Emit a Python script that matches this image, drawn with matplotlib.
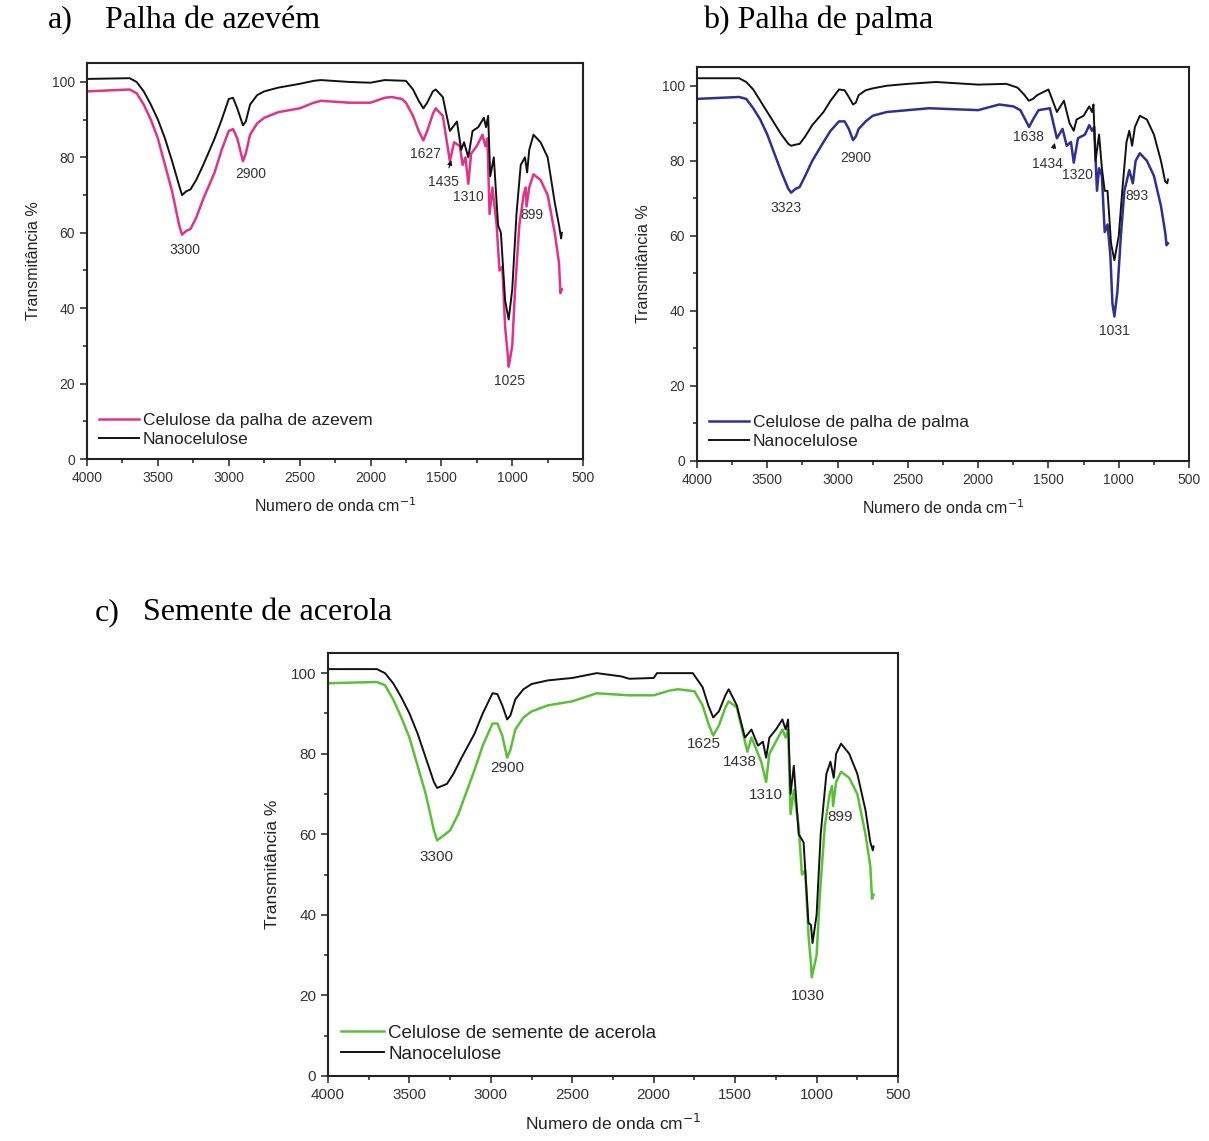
import matplotlib
matplotlib.use("Agg")
import matplotlib.pyplot as plt
from matplotlib.ticker import MultipleLocator

plt.rcParams['font.family'] = ['Liberation Sans', 'DejaVu Sans']

# --- dados (numero de onda cm-1, transmitancia %) ---
# a) palha de azevem
a_wn_cel = [4000, 3700, 3650, 3600, 3550, 3500, 3450, 3400, 3350, 3330, 3300, 3270, 3230, 3180,
            3100, 3050, 3000, 2970, 2940, 2900, 2880, 2850, 2800, 2750, 2650, 2500, 2400, 2350,
            2150, 2000, 1900, 1850, 1780, 1750, 1700, 1660, 1627, 1600, 1560, 1540, 1490, 1440,
            1410, 1370, 1350, 1330, 1310, 1290, 1250, 1210, 1190, 1175, 1160, 1140, 1110, 1090,
            1070, 1050, 1030, 1025, 1000, 980, 950, 920, 905, 899, 880, 850, 800, 750, 700, 670,
            660, 650]
a_t_cel = [97.5, 98, 97, 94, 90, 85, 78, 71, 62, 59.5, 60.5, 61, 64, 69,
           76, 82, 87, 87.5, 85, 79, 81, 86, 89, 90.5, 92, 93, 94.5, 95,
           94.5, 94.5, 95.8, 96, 95.5, 94.5, 91, 87, 84.5, 87, 91.5, 93, 91, 79,
           84, 83, 78, 80, 73, 81, 83, 86, 83, 85, 65, 72, 62, 50,
           51, 35, 27, 24.5, 30, 45, 62, 70, 72, 67, 72, 75.5, 74, 70, 60, 52,
           44, 45]
a_wn_nano = [4000, 3700, 3650, 3600, 3550, 3500, 3450, 3400, 3350, 3330, 3300, 3270, 3230, 3180,
             3100, 3050, 3000, 2970, 2940, 2900, 2880, 2850, 2800, 2750, 2650, 2500, 2400, 2350,
             2150, 2000, 1900, 1750, 1700, 1660, 1627, 1600, 1560, 1540, 1490, 1440, 1390, 1360,
             1340, 1310, 1280, 1240, 1200, 1185, 1170, 1155, 1130, 1100, 1080, 1050, 1025, 1000,
             970, 940, 910, 895, 880, 850, 800, 750, 700, 670, 655, 650]
a_t_nano = [100.8, 101, 100, 97.5, 94, 90, 85, 79, 72.5, 70, 71, 71.5, 74, 78,
            85, 90, 95.5, 95.8, 93, 88.5, 89.5, 94, 96.5, 97.5, 98.5, 99.5, 100.3, 100.5,
            100, 99.8, 100.5, 100.3, 98, 95, 93, 94.5, 97.5, 98, 96, 87, 89.5, 82,
            84, 80, 87, 88, 90.5, 88, 91, 75, 80, 62, 60, 42, 37, 45,
            65, 78, 80, 76, 82, 86, 84, 80, 68, 62, 58.5, 60]

# b) palha de palma
b_wn_cel = [4000, 3700, 3650, 3600, 3550, 3500, 3450, 3400, 3350, 3330, 3300, 3270, 3230, 3180,
            3100, 3050, 2990, 2950, 2920, 2890, 2870, 2850, 2800, 2750, 2650, 2500, 2350, 2000,
            1850, 1750, 1700, 1665, 1638, 1610, 1570, 1490, 1440, 1400, 1370, 1340, 1320, 1290,
            1240, 1210, 1190, 1175, 1155, 1140, 1120, 1100, 1080, 1060, 1045, 1031, 1010, 985,
            960, 925, 900, 880, 850, 800, 750, 700, 670, 660, 650]
b_t_cel = [96.5, 97, 96.5, 94, 91, 87, 82, 77, 72.5, 71.5, 72.5, 73, 76, 80,
           85, 88, 90.5, 90.5, 88.5, 85.5, 86.5, 88.5, 90.5, 92, 93, 93.5, 94, 93.5,
           95, 94.5, 93.5, 91, 89, 91, 93.5, 94, 86, 88.5, 84, 85, 79.5, 86,
           87, 89.5, 88, 89, 72, 78, 76, 61, 63, 55, 42, 38.5, 45, 60,
           72, 77.5, 74, 80, 82, 80, 76, 68, 61, 57.5, 58]
b_wn_nano = [4000, 3700, 3650, 3600, 3550, 3500, 3450, 3400, 3350, 3330, 3300, 3270, 3230, 3180,
             3100, 3050, 2990, 2950, 2920, 2890, 2870, 2850, 2800, 2750, 2650, 2500, 2300, 2000,
             1800, 1720, 1670, 1640, 1610, 1580, 1500, 1440, 1390, 1350, 1320, 1300, 1250, 1210,
             1190, 1180, 1165, 1140, 1120, 1100, 1080, 1055, 1031, 1000, 975, 945, 925, 905,
             885, 850, 800, 750, 700, 670, 655, 650]
b_t_nano = [102, 102, 101, 99, 96, 93, 90, 87, 84.5, 84, 84.3, 84.5, 86.5, 89.5,
            93, 96, 99, 98.8, 97, 95, 95.5, 97.5, 98.8, 99.3, 100, 100.5, 101, 100.3,
            100.5, 99.5, 97.5, 96, 96.5, 97.5, 99, 93, 96, 90, 88, 91, 92, 94.5,
            93, 95, 80, 87, 78, 72, 72, 58, 53.5, 60, 72, 85, 88, 84,
            89, 92, 91, 87, 80, 74.5, 74, 75]

# c) semente de acerola
c_wn_cel = [4000, 3700, 3650, 3600, 3550, 3500, 3450, 3400, 3350, 3330, 3280, 3250, 3200, 3150,
            3100, 3050, 2990, 2960, 2930, 2900, 2880, 2850, 2800, 2750, 2650, 2500, 2350, 2150,
            2000, 1900, 1850, 1750, 1700, 1665, 1635, 1600, 1560, 1540, 1490, 1440, 1425, 1400,
            1370, 1340, 1310, 1290, 1250, 1210, 1190, 1175, 1160, 1140, 1110, 1090, 1070, 1050,
            1035, 1030, 1000, 980, 950, 920, 905, 899, 880, 850, 800, 750, 700, 670, 660, 650]
c_t_cel = [97.5, 97.8, 97, 93.5, 89, 84, 77, 70, 61, 58.5, 60, 61, 65, 70.5,
           76, 82, 87.5, 87.5, 84.5, 79, 81, 86, 89, 90.5, 92, 93, 95, 94.5,
           94.5, 95.7, 96, 95.5, 92, 87.5, 84.5, 87, 91.5, 93, 91.5, 83, 80.5, 84,
           81, 78, 73, 80, 83, 86, 84, 86, 65, 71, 62, 50, 51, 35,
           28, 24.5, 30, 45, 62, 70, 72, 67, 73, 75.5, 74, 70, 60, 52, 44, 45]
c_wn_nano = [4000, 3700, 3650, 3600, 3550, 3500, 3450, 3400, 3350, 3330, 3300, 3270, 3230, 3180,
             3100, 3050, 2990, 2960, 2930, 2900, 2880, 2850, 2800, 2750, 2650, 2500, 2350, 2200,
             2150, 2000, 1980, 1900, 1760, 1700, 1665, 1635, 1600, 1560, 1540, 1490, 1440, 1400,
             1360, 1330, 1310, 1290, 1250, 1210, 1190, 1175, 1160, 1140, 1110, 1080, 1050, 1035,
             1025, 1000, 975, 940, 915, 895, 880, 850, 800, 750, 700, 670, 655, 650]
c_t_nano = [101, 101, 100, 97.5, 94, 90, 85, 79, 73, 71.5, 72, 72.5, 75, 79,
            85, 90, 95, 94.8, 92, 88.5, 89.5, 93.5, 96, 97.3, 98.2, 98.8, 100, 99.2,
            98.6, 98.8, 100, 100, 100, 96.5, 92, 89, 90.5, 94.5, 96, 92, 84, 86,
            82, 83, 79, 84, 86, 88.5, 86, 88.5, 70, 77, 60, 58, 38, 37.5,
            33, 40, 60, 75, 78, 74, 80, 82.5, 80, 75, 66, 58, 56, 57]

# rotulos das bandas: (texto, x, y)
a_bandas = [("3300", 3308, 55.4), ("2900", 2843, 75.6), ("1627", 1615, 81), ("1435", 1487, 73.5),
            ("1310", 1311, 69.5), ("899", 860, 64.7), ("1025", 1022, 20.7)]
b_bandas = [("3323", 3366, 67.5), ("2900", 2874, 80.8), ("1638", 1641, 86.4), ("1434", 1505, 79.2),
            ("1320", 1291, 76.3), ("893", 871, 70.7), ("1031", 1028, 34.7)]
c_bandas = [("3300", 3337, 54.3), ("2900", 2901, 76.4), ("1625", 1691, 82.4), ("1438", 1470, 77.9),
            ("1310", 1311, 69.7), ("899", 856, 64.3), ("1030", 1053, 19.9)]

GREY = "#333333"


def painel(ax, wn_cel, t_cel, wn_nano, t_nano, cor, nome, bandas, fs, seta=None):
    ax.plot(wn_cel, t_cel, color=cor, lw=1.8, label=nome)
    ax.plot(wn_nano, t_nano, color="#111111", lw=1.4, label="Nanocelulose")
    ax.set_xlim(4000, 500)
    ax.set_ylim(0, 105)
    ax.xaxis.set_major_locator(MultipleLocator(500))
    ax.xaxis.set_minor_locator(MultipleLocator(250))
    ax.yaxis.set_major_locator(MultipleLocator(20))
    ax.yaxis.set_minor_locator(MultipleLocator(10))
    ax.tick_params(which="both", direction="out", top=False, right=False,
                   labelsize=fs, colors=GREY, width=1.2)
    ax.tick_params(which="major", length=5)
    ax.tick_params(which="minor", length=3)
    for s in ax.spines.values():
        s.set_linewidth(1.5)
        s.set_color("#222222")
    ax.set_xlabel("Numero de onda cm$^{-1}$", fontsize=fs + 1.5, color="#222222", labelpad=8)
    ax.set_ylabel("Transmitância %", fontsize=fs + 1.5, color="#222222", labelpad=8)
    for txt, x, y in bandas:
        ax.text(x, y, txt, fontsize=fs, color=GREY, ha="center", va="center")
    if seta:
        ax.annotate("", xy=seta[1], xytext=seta[0],
                    arrowprops=dict(arrowstyle="-|>", color="#111111", lw=0.8, mutation_scale=7))
    leg = ax.legend(loc="lower left", frameon=False, fontsize=fs + 2.5, handlelength=2.3,
                    handletextpad=0.2, borderaxespad=0.3, labelspacing=0.2)
    for t in leg.get_texts():
        t.set_color("#222222")


fig = plt.figure(figsize=(12.09, 11.41), dpi=100)

ax_a = fig.add_axes([0.0720, 0.5977, 0.4103, 0.3470])
painel(ax_a, a_wn_cel, a_t_cel, a_wn_nano, a_t_nano, "#e0338a",
       "Celulose da palha de azevem", a_bandas, 10, ((1452, 76.5), (1425, 80)))

ax_b = fig.add_axes([0.5765, 0.5960, 0.4070, 0.3453])
painel(ax_b, b_wn_cel, b_t_cel, b_wn_nano, b_t_nano, "#2e3192",
       "Celulose de palha de palma", b_bandas, 10, ((1470, 82.5), (1450, 85.5)))

ax_c = fig.add_axes([0.2713, 0.0570, 0.4715, 0.3707])
painel(ax_c, c_wn_cel, c_t_cel, c_wn_nano, c_t_nano, "#5cbf3a",
       "Celulose de semente de acerola", c_bandas, 11)

titulo = dict(fontsize=23, family=["Liberation Serif", "DejaVu Serif"], va="center")
fig.text(48 / 1209, 1 - 20 / 1141, "a)", **titulo)
fig.text(105 / 1209, 1 - 20 / 1141, "Palha de azevém", **titulo)
fig.text(703 / 1209, 1 - 20 / 1141, "b) Palha de palma", **titulo)
fig.text(95 / 1209, 1 - 613 / 1141, "c)", **titulo)
fig.text(143 / 1209, 1 - 613 / 1141, "Semente de acerola", **titulo)

fig.savefig("out.png", dpi=100)
